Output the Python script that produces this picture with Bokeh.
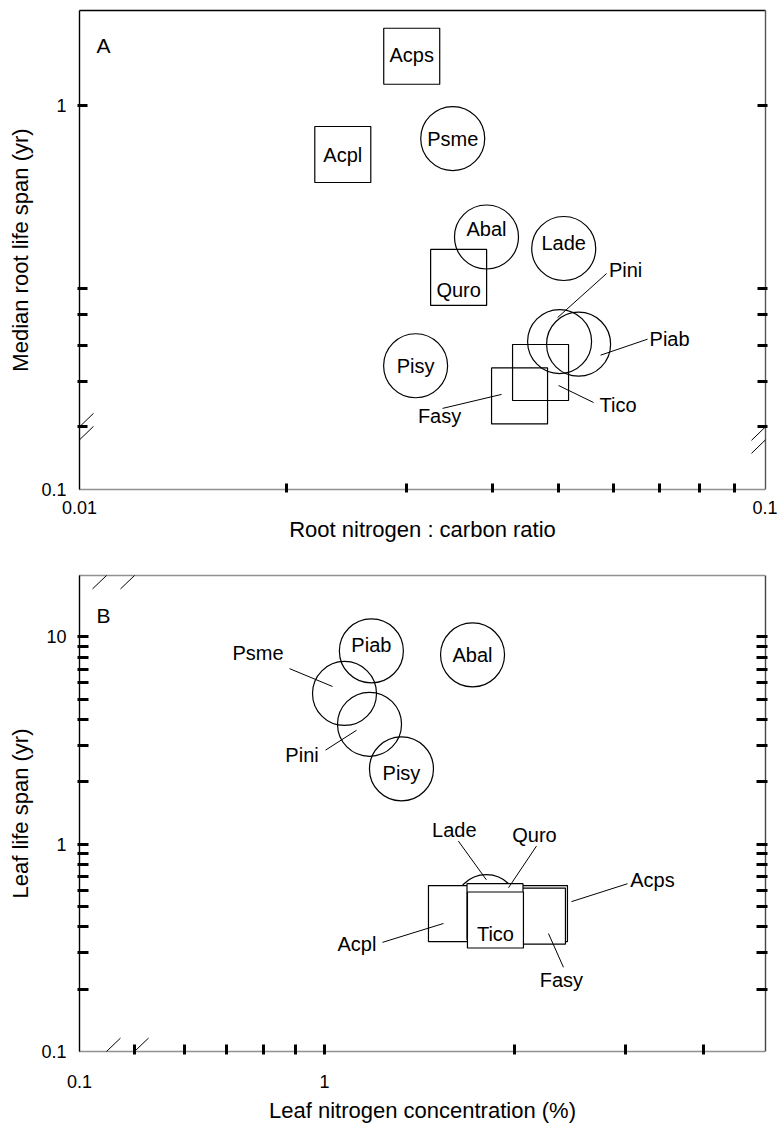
import math
from bokeh.plotting import figure
from bokeh.layouts import column
from bokeh.models import (LogAxis, FixedTicker, CustomJSTickFormatter, Arrow, Range1d)
from bokeh.core.properties import value
from bokeh.embed import file_html
from bokeh.resources import INLINE

FONT = "Liberation Sans"

# ---------------- data: panel A (roots) ----------------
a_species = ["Acps", "Acpl", "Psme", "Abal", "Lade", "Quro", "Pini", "Piab", "Pisy", "Tico", "Fasy"]
a_root_nc = [0.0305, 0.0242, 0.0350, 0.0392, 0.0508, 0.0357, 0.0501, 0.0534, 0.0309, 0.0470, 0.0438]
a_root_life = [1.28, 0.782, 0.847, 0.517, 0.488, 0.422, 0.306, 0.302, 0.271, 0.262, 0.233]
a_group = ["broadleaf", "broadleaf", "conifer", "conifer", "conifer", "broadleaf",
           "conifer", "conifer", "conifer", "broadleaf", "broadleaf"]

# ---------------- data: panel B (leaves) ----------------
b_species = ["Piab", "Psme", "Pini", "Pisy", "Abal", "Lade", "Acpl", "Acps", "Fasy", "Quro", "Tico"]
b_leaf_n = [1.187, 1.076, 1.179, 1.325, 1.718, 1.807, 1.62, 2.194, 2.178, 1.865, 1.868]
b_leaf_life = [8.57, 5.34, 3.79, 2.31, 8.2, 0.50, 0.463, 0.463, 0.450, 0.473, 0.431]
b_group = ["conifer", "conifer", "conifer", "conifer", "conifer", "conifer",
           "broadleaf", "broadleaf", "broadleaf", "broadleaf", "broadleaf"]

# axis ticks / labels
a_x_minor = [0.02, 0.03, 0.04, 0.05, 0.06, 0.07, 0.08, 0.09]
a_y_minor = [0.2, 0.25, 0.3, 0.35, 0.4, 1.0]
b_x_minor = [0.5, 0.6, 0.7, 0.8, 0.9, 1.0, 2.0, 3.0, 4.0]
b_y_minor = [0.2, 0.3, 0.4, 0.5, 0.6, 0.7, 0.8, 0.9, 1.0, 2, 3, 4, 5, 6, 7, 8, 9, 10]

# ranges (axes are broken, so the corner labels sit at the frame edge)
A_X = (0.01, 0.1)
A_Y = (0.1457, 1.61)
B_X = (0.4085, 5.012)
B_Y = (0.1, 19.8)
FW, FH = 686, 479

# label placement (pixel offsets from the mark: label, leader start, leader end)
a_label_off = {"Acps": (0, -1), "Acpl": (0, 1), "Psme": (0, 0), "Abal": (0, -8), "Lade": (0, -5),
               "Quro": (0, 13), "Pisy": (0, 0),
               "Pini": (66, -71.5), "Piab": (91, -5), "Tico": (77.5, 32.5), "Fasy": (-80, 20.5)}
a_leaders = {"Pini": (-2, -24, 47, -68), "Piab": (22, 11, 69, -5),
             "Tico": (18, 13, 53, 30), "Fasy": (-18, -1.5, -77, 12.5)}
b_label_off = {"Piab": (0, -6), "Abal": (0, 0), "Pisy": (0, 4), "Tico": (0, 14),
               "Psme": (-86.5, -40), "Pini": (-67.5, 30.5), "Lade": (-32, -76.5),
               "Quro": (39.5, -77), "Acps": (113, -33.5), "Fasy": (24, 64), "Acpl": (-99.5, 30.5)}
b_leaders = {"Psme": (-55, -25, -12, -7), "Pini": (-44, 26, -13, 6), "Lade": (-28, -66, 0, -27),
             "Quro": (41.5, -66, 13.5, -24), "Acps": (88, -30, 32, -12), "Fasy": (26, 51.5, 11, 17.5),
             "Acpl": (-74, 29, -13, 10)}


def shift(v, dpx, lo, hi, npx):
    return v * (hi / lo) ** (dpx / npx)


def fmt(vals, labs):
    return CustomJSTickFormatter(args=dict(vals=vals, labs=labs), code="""
        for (let i = 0; i < vals.length; i++) {
            if (Math.abs(Math.log(tick) - Math.log(vals[i])) < 1e-6) { return labs[i]; }
        }
        return "";
    """)


def style_axis(ax, major, labels, minor, tin, tout, color="black", dash="solid", lw=1.4,
               standoff=8, lab_standoff=0):
    ax.ticker = FixedTicker(ticks=major, minor_ticks=minor)
    ax.formatter = fmt(major, labels)
    ax.major_tick_line_color = None
    ax.major_tick_in = 0
    ax.major_tick_out = 0
    ax.minor_tick_in = tin
    ax.minor_tick_out = tout
    ax.minor_tick_line_width = 3
    ax.minor_tick_line_color = "black"
    ax.axis_line_color = color
    ax.axis_line_width = lw
    ax.axis_line_dash = dash
    ax.major_label_text_font = FONT
    ax.major_label_text_font_size = "18px"
    ax.major_label_text_color = "black"
    ax.major_label_standoff = standoff
    ax.axis_label_text_font = FONT
    ax.axis_label_text_font_size = "22px"
    ax.axis_label_text_font_style = "normal"
    ax.axis_label_text_color = "black"
    ax.axis_label_standoff = lab_standoff


def blank_axis(side_color, dash, lw=1.4):
    ax = LogAxis(ticker=FixedTicker(ticks=[]), formatter=fmt([], []))
    ax.major_tick_in = 0
    ax.major_tick_out = 0
    ax.minor_tick_in = 0
    ax.minor_tick_out = 0
    ax.major_label_standoff = 0
    ax.major_label_text_font_size = "0px"
    ax.axis_line_color = side_color
    ax.axis_line_dash = dash
    ax.axis_line_width = lw
    return ax


def make_panel(xr, yr, height, top_border, bottom_border):
    p = figure(width=777, height=height, x_axis_type="log", y_axis_type="log",
               x_range=Range1d(*xr), y_range=Range1d(*yr),
               output_backend="svg", toolbar_location=None,
               min_border_left=79, min_border_right=12,
               min_border_top=top_border, min_border_bottom=bottom_border)
    p.grid.visible = False
    p.outline_line_color = None
    p.background_fill_color = "white"
    p.border_fill_color = "white"
    return p


def draw_marks(p, xr, yr, species, xs, ys, groups, label_off, leaders, fill):
    circ = [i for i, g in enumerate(groups) if g == "conifer"]
    sq = [i for i, g in enumerate(groups) if g == "broadleaf"]
    p.scatter([xs[i] for i in circ], [ys[i] for i in circ], marker="circle", size=64,
              fill_color=None, line_color="black", line_width=1.2)
    p.scatter([xs[i] for i in sq], [ys[i] for i in sq], marker="square", size=56,
              fill_color=fill, line_color="black", line_width=1.2)
    # leader lines
    x0, y0, x1, y1 = [], [], [], []
    for i, s in enumerate(species):
        if s in leaders:
            sx, sy, ex, ey = leaders[s]
            x0.append(shift(xs[i], sx, xr[0], xr[1], FW))
            y0.append(shift(ys[i], -sy, yr[0], yr[1], FH))
            x1.append(shift(xs[i], ex, xr[0], xr[1], FW))
            y1.append(shift(ys[i], -ey, yr[0], yr[1], FH))
    p.segment(x0, y0, x1, y1, line_color="black", line_width=1)
    p.text(xs, ys, text=species,
           x_offset=[label_off[s][0] for s in species],
           y_offset=[label_off[s][1] for s in species],
           text_align="center", text_baseline="middle",
           text_font=value(FONT), text_font_size="20px", text_color="black")


def break_mark(p, xr, yr, xv, yv, dx, dy):
    # short slanted stroke centred dx, dy pixels away from (xv, yv)
    xs = shift(xv, dx - 14, xr[0], xr[1], FW)
    xe = shift(xv, dx + 14, xr[0], xr[1], FW)
    ys = shift(yv, -(dy + 13.5), yr[0], yr[1], FH)
    ye = shift(yv, -(dy - 13.5), yr[0], yr[1], FH)
    p.add_layout(Arrow(end=None, x_start=xs, y_start=ys, x_end=xe, y_end=ye,
                       line_color="black", line_width=1))


# ================= Panel A =================
pA = make_panel(A_X, A_Y, 553, 10, 64)
style_axis(pA.below[0], [A_X[0], 0.1], ["0.01", "0.1"], a_x_minor, 6, 3,
           color="#222222", dash="1 1", lw=1.5, standoff=8, lab_standoff=0)
pA.below[0].axis_label = "Root nitrogen : carbon ratio"
style_axis(pA.left[0], [A_Y[0], 1.0], ["0.1", "1"], a_y_minor, 8, 2,
           standoff=11, lab_standoff=5)
pA.left[0].axis_label = "Median root life span (yr)"
rA = LogAxis()
style_axis(rA, [], [], a_y_minor, 8, 2, color="#555555", standoff=0)
rA.major_label_text_font_size = "0px"
pA.add_layout(rA, "right")
pA.add_layout(blank_axis("black", "solid"), "above")

draw_marks(pA, A_X, A_Y, a_species, a_root_nc, a_root_life, a_group,
           a_label_off, a_leaders, None)
pA.text([shift(A_X[0], 24, A_X[0], A_X[1], FW)], [shift(A_Y[1], -35, A_Y[0], A_Y[1], FH)],
        text=["A"], text_align="center", text_baseline="middle",
        text_font=value(FONT), text_font_size="21px", text_color="black")
for xv in (A_X[0], A_X[1]):
    break_mark(pA, A_X, A_Y, xv, 0.2, 0, 0.5)
    break_mark(pA, A_X, A_Y, xv, 0.2, 0, 13.5)

# ================= Panel B =================
pB = make_panel(B_X, B_Y, 572, 22, 71)
style_axis(pB.below[0], [B_X[0], 1.0], ["0.1", "1"], b_x_minor, 7, 3,
           color="#222222", dash="1 1", lw=1.5, standoff=20, lab_standoff=7)
pB.below[0].axis_label = "Leaf nitrogen concentration (%)"
style_axis(pB.left[0], [B_Y[0], 1.0, 10.0], ["0.1", "1", "10"], b_y_minor, 9, 2,
           standoff=11, lab_standoff=5)
pB.left[0].axis_label = "Leaf life span (yr)"
rB = LogAxis()
style_axis(rB, [], [], b_y_minor, 9, 2, color="#444444", standoff=0)
rB.major_label_text_font_size = "0px"
pB.add_layout(rB, "right")
pB.add_layout(blank_axis("#222222", "1 1", 1.5), "above")

draw_marks(pB, B_X, B_Y, b_species, b_leaf_n, b_leaf_life, b_group,
           b_label_off, b_leaders, "white")
pB.text([shift(B_X[0], 24, B_X[0], B_X[1], FW)], [shift(B_Y[1], -40, B_Y[0], B_Y[1], FH)],
        text=["B"], text_align="center", text_baseline="middle",
        text_font=value(FONT), text_font_size="21px", text_color="black")
for yv in (B_Y[0], B_Y[1]):
    break_mark(pB, B_X, B_Y, B_X[0], yv, 27, 0)
    break_mark(pB, B_X, B_Y, B_X[0], yv, 55, 0)

layout = column(pA, pB)
open("out.html", "w").write(file_html(layout, INLINE))
